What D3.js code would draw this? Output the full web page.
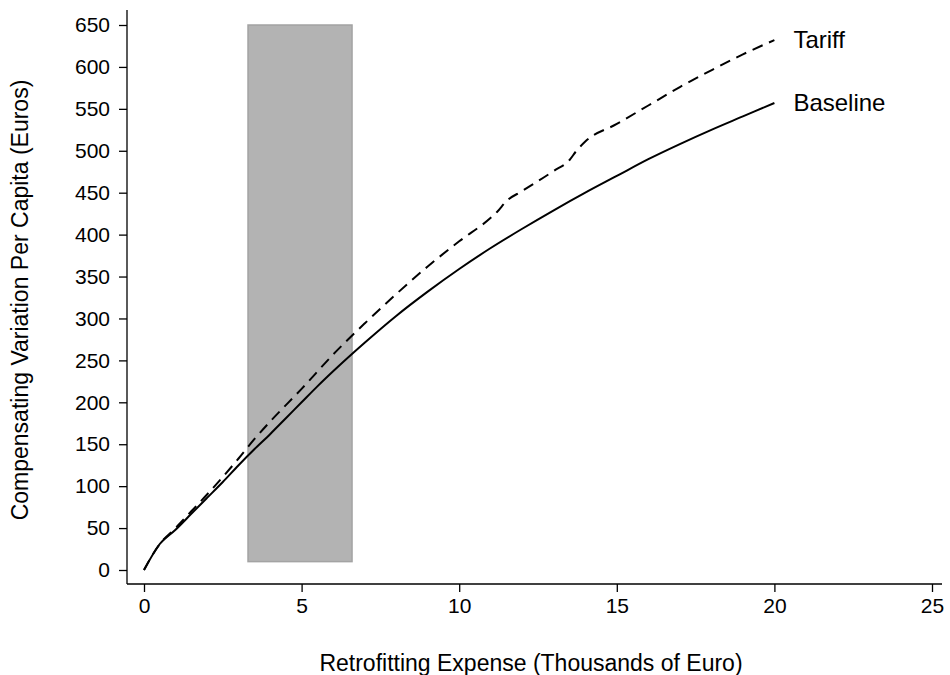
<!DOCTYPE html>
<html lang="en">
<head>
  <meta charset="UTF-8">
  <title>Compensating Variation vs Retrofitting Expense</title>
  <script src="https://d3js.org/d3.v7.min.js"></script>
  <style>
    body { margin: 0; background: #fff; }
    svg { font-family: "Liberation Sans", Arial, sans-serif; }
  </style>
</head>
<body>
  <div id="chart"></div>
  <script>
    // x values (thousands of euro)
    const expense = [0, 0.5, 1, 1.5, 2, 2.5, 3, 3.5, 4, 4.5, 5, 5.5, 6, 7, 8, 9, 10, 11, 12, 13, 14, 15, 16, 17, 18, 19, 20];
    const baseline = [0, 31, 48, 67, 86, 105, 125, 144, 162, 181, 200, 219, 237, 271, 303, 332, 359, 384, 407, 429, 450, 470, 490, 508, 525, 541, 557];

    const tariffX = [0, 0.5, 1, 1.5, 2, 2.5, 3, 3.5, 4, 5, 6, 7, 8, 9, 10, 11, 11.2, 11.5, 12, 13, 13.5, 13.7, 14, 15, 16, 17, 18, 19, 20];
    const tariff = [0, 31, 50, 70, 90, 111, 133, 156, 177, 216, 257, 294, 329, 362, 392, 420, 427, 440, 452, 476, 489, 499, 511, 532, 554, 576, 596, 615, 632];

    const shadeX = [3.3, 6.6];
    const shadeY = [10, 650];

    const xTicks = [0, 5, 10, 15, 20, 25];
    const yTicks = d3.range(0, 651, 50);

    const W = 950, H = 675;
    const svg = d3.select("#chart").append("svg").attr("width", W).attr("height", H);

    const x = d3.scaleLinear().domain([0, 25]).range([144, 932]);
    const y = d3.scaleLinear().domain([0, 650]).range([570, 25]);

    //shaded band
    svg.append("rect")
      .attr("x", x(shadeX[0]))
      .attr("y", y(shadeY[1]))
      .attr("width", x(shadeX[1]) - x(shadeX[0]))
      .attr("height", y(shadeY[0]) - y(shadeY[1]))
      .attr("fill", "#b3b3b3")
      .attr("stroke", "#a3a3a3")
      .attr("stroke-width", 1.5);

    //axes
    const xAxis = svg.append("g")
      .attr("transform", "translate(0,584)")
      .call(d3.axisBottom(x).tickValues(xTicks).tickSize(8).tickPadding(6).tickSizeOuter(0));
    xAxis.select(".domain").attr("d", "M127,0H942");

    const yAxis = svg.append("g")
      .attr("transform", "translate(127,0)")
      .call(d3.axisLeft(y).tickValues(yTicks).tickSize(8).tickPadding(9).tickSizeOuter(0));
    yAxis.select(".domain").attr("d", "M0,10V584");

    svg.selectAll(".tick text").attr("font-size", 21).attr("font-family", "Liberation Sans, Arial, sans-serif").attr("fill", "#000");
    svg.selectAll(".tick line, .domain").attr("stroke", "#000").attr("stroke-width", 1.3);

    //lines
    const lineB = d3.line().x((d, i) => x(expense[i])).y(d => y(d)).curve(d3.curveMonotoneX);
    svg.append("path")
      .datum(baseline)
      .attr("d", lineB)
      .attr("fill", "none")
      .attr("stroke", "#000")
      .attr("stroke-width", 2);

    const lineT = d3.line().x((d, i) => x(tariffX[i])).y(d => y(d)).curve(d3.curveMonotoneX);
    svg.append("path")
      .datum(tariff)
      .attr("d", lineT)
      .attr("fill", "none")
      .attr("stroke", "#000")
      .attr("stroke-width", 2)
      .attr("stroke-dasharray", "11,7");

    //line labels
    svg.append("text")
      .attr("x", x(20) + 19)
      .attr("y", y(tariff[tariff.length - 1]))
      .attr("dy", "0.35em")
      .attr("font-size", 24)
      .text("Tariff");
    svg.append("text")
      .attr("x", x(20) + 19)
      .attr("y", y(baseline[baseline.length - 1]))
      .attr("dy", "0.35em")
      .attr("font-size", 24)
      .text("Baseline");

    //axis titles
    svg.append("text")
      .attr("x", 531)
      .attr("y", 671)
      .attr("text-anchor", "middle")
      .attr("font-size", 23)
      .text("Retrofitting Expense (Thousands of Euro)");
    svg.append("text")
      .attr("transform", "translate(28,300) rotate(-90)")
      .attr("text-anchor", "middle")
      .attr("font-size", 23)
      .text("Compensating Variation Per Capita (Euros)");
  </script>
</body>
</html>
